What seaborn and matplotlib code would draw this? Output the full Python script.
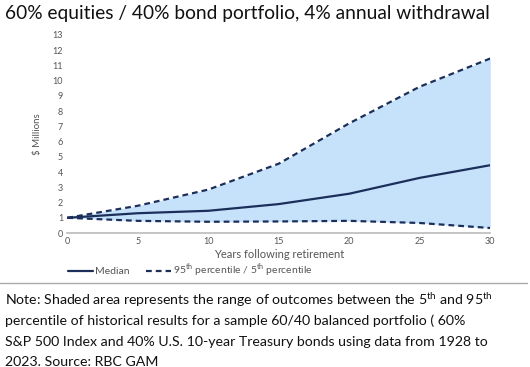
import matplotlib
matplotlib.use("Agg")
import matplotlib.pyplot as plt
import seaborn as sns
import pandas as pd
from matplotlib.lines import Line2D

years = [0, 5, 10, 15, 20, 25, 30]
median = [1.0, 1.3, 1.46, 1.9, 2.58, 3.62, 4.45]
p95 = [1.0, 1.79, 2.85, 4.55, 7.2, 9.6, 11.45]
p5 = [1.0, 0.8, 0.74, 0.76, 0.8, 0.66, 0.33]
yticks = list(range(0, 14))
xticks = [0, 5, 10, 15, 20, 25, 30]

title = "60% equities / 40% bond portfolio, 4% annual withdrawal"
note_lines = [
    r"Note: Shaded area represents the range of outcomes between the 5$^{\mathregular{th}}$ and 95$^{\mathregular{th}}$",
    "percentile of historical results for a sample 60/40 balanced portfolio ( 60%",
    "S&P 500 Index and 40% U.S. 10-year Treasury bonds using data from 1928 to",
    "2023. Source: RBC GAM",
]

sns.set_style("white")
plt.rcParams["font.family"] = ["Lato", "DejaVu Sans"]
plt.rcParams["mathtext.fontset"] = "custom"
plt.rcParams["mathtext.rm"] = "Lato"

navy = "#1c2f5a"
fill = "#c6e2fb"
grey = "#555555"

df = pd.DataFrame({"year": years, "median": median, "p95": p95, "p5": p5})

fig = plt.figure(figsize=(5.3, 3.67), dpi=100)
ax = fig.add_axes([0.127, 0.365, 0.798, 0.54])

ax.fill_between(df["year"], df["p5"], df["p95"], color=fill, linewidth=0, zorder=1)
sns.lineplot(data=df, x="year", y="median", ax=ax, color=navy, linewidth=1.6, zorder=3)
sns.lineplot(data=df, x="year", y="p95", ax=ax, color=navy, linewidth=1.6, zorder=3)
sns.lineplot(data=df, x="year", y="p5", ax=ax, color=navy, linewidth=1.6, zorder=3)
ax.lines[1].set_dashes([2.6, 1.8])
ax.lines[2].set_dashes([2.6, 1.8])

ax.set_xlim(0, 30)
ax.set_ylim(0, 13)
ax.set_xticks(xticks)
ax.set_yticks(yticks)
ax.tick_params(axis="both", labelsize=6.5, colors=grey, length=0, pad=3)
for s in ["top", "right", "left"]:
    ax.spines[s].set_visible(False)
ax.spines["bottom"].set_color("#bbbbbb")
ax.spines["bottom"].set_linewidth(1.2)
ax.set_xlabel("Years following retirement", fontsize=8, color=grey, labelpad=2)
ax.set_ylabel("$ Millions", fontsize=7, color=grey, labelpad=4)
ax.yaxis.set_label_coords(-0.06, 0.5)

fig.text(0.01, 0.962, title, fontsize=13.8, color="#111111", va="center", ha="left")

handles = [
    Line2D([], [], color=navy, linewidth=1.6),
    Line2D([], [], color=navy, linewidth=1.6, dashes=[2.6, 1.8]),
]
labels = ["Median", r"95$^{\mathregular{th}}$ percentile / 5$^{\mathregular{th}}$ percentile"]
fig.legend(handles, labels, loc="center left", bbox_to_anchor=(0.11, 0.262),
           ncol=2, frameon=False, fontsize=7.5, handlelength=2.4, handletextpad=0.2,
           columnspacing=1.6, labelcolor=grey)

fig.add_artist(Line2D([0.0, 0.995], [1 - 283 / 367, 1 - 283 / 367],
                      transform=fig.transFigure, color="#aaaaaa", linewidth=1))

ys = [300, 321, 342, 362]
for line, y in zip(note_lines, ys):
    fig.text(0.01, 1 - y / 367, line, fontsize=10.2, color="#111111", va="center", ha="left")

fig.savefig("out.png", dpi=100)
